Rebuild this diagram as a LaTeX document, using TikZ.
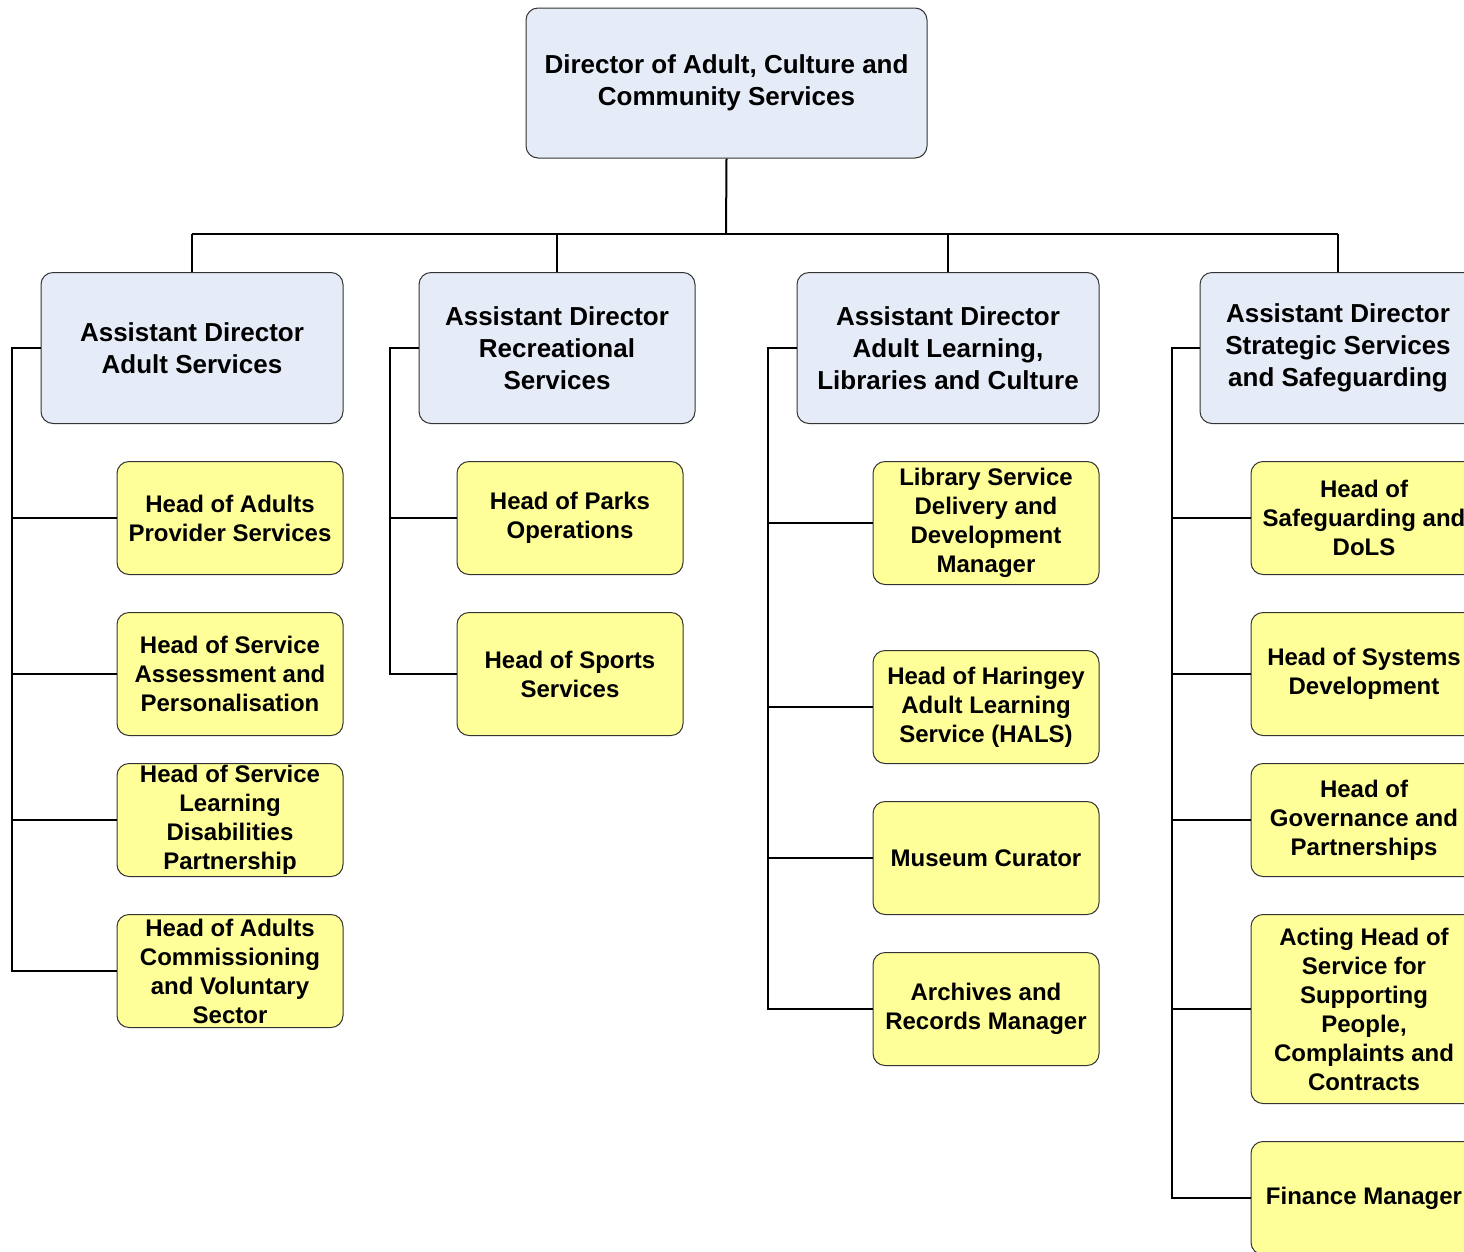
\documentclass[tikz,border=0pt]{standalone}
\usepackage{fontspec}
\setmainfont{Liberation Sans}
\usepackage{tikz}

\definecolor{adblue}{HTML}{E6ECF7}
\definecolor{headyellow}{HTML}{FFFF99}
\tikzset{
    box/.style={draw=black!80, line width=1pt, rounded corners=12pt, align=center, inner sep=0pt},
    director/.style={box, fill=adblue, minimum width=401pt, minimum height=150pt, font=\bfseries\fontsize{26}{32}\selectfont},
    assistant/.style={box, fill=adblue, minimum height=151pt, font=\bfseries\fontsize{26}{32}\selectfont},
    head/.style={box, fill=headyellow, minimum width=226pt, minimum height=113pt, font=\bfseries\fontsize{24}{29}\selectfont},
    trunk/.style={line width=2pt},
    link/.style={line width=1.2pt}
}

\begin{document}
\begin{tikzpicture}[x=1pt,y=-1pt]
    \useasboundingbox (0,0) rectangle (1464,1251);
    \clip (0,0) rectangle (1464,1251);
    \node[director] (dir) at (726.5,83) {Director of Adult, Culture and\\Community Services};
    \coordinate (bar) at (726,234);
    \node[assistant, minimum width=302pt] (ad1) at (192,348) {Assistant Director\\Adult Services};
    \node[assistant, minimum width=276pt] (ad2) at (557,348) {Assistant Director\\Recreational\\Services};
    \node[assistant, minimum width=302pt] (ad3) at (948,348) {Assistant Director\\Adult Learning,\\Libraries and Culture};
    \node[assistant, minimum width=276pt] (ad4) at (1338,348) {Assistant Director\\Strategic Services\\and Safeguarding};
    %heads
    \node[head] (h11) at (230,518) {Head of Adults\\Provider Services};
    \node[head, minimum height=123pt] (h12) at (230,674) {Head of Service\\Assessment and\\Personalisation};
    \node[head] (h13) at (230,820) {Head of Service\\Learning\\Disabilities\\Partnership};
    \node[head] (h14) at (230,971) {Head of Adults\\Commissioning\\and Voluntary\\Sector};
    \node[head] (h21) at (570,518) {Head of Parks\\Operations};
    \node[head, minimum height=123pt] (h22) at (570,674) {Head of Sports\\Services};
    \node[head, minimum height=123pt] (h31) at (986,523) {Library Service\\Delivery and\\Development\\Manager};
    \node[head] (h32) at (986,707) {Head of Haringey\\Adult Learning\\Service (HALS)};
    \node[head] (h33) at (986,858) {Museum Curator};
    \node[head] (h34) at (986,1009) {Archives and\\Records Manager};
    \node[head] (h41) at (1364,518) {Head of\\Safeguarding and\\DoLS};
    \node[head, minimum height=123pt] (h42) at (1364,674) {Head of Systems\\Development};
    \node[head] (h43) at (1364,820) {Head of\\Governance and\\Partnerships};
    \node[head, minimum height=189pt] (h44) at (1364,1009) {Acting Head of\\Service for\\Supporting\\People,\\Complaints and\\Contracts};
    \node[head] (h45) at (1364,1198) {Finance Manager};
    %spines
    \coordinate (s1) at (12,348);
    \coordinate (s2) at (390,348);
    \coordinate (s3) at (768,348);
    \coordinate (s4) at (1172,348);
    \draw[trunk] (dir.south) -- (bar);
    \draw[trunk] (ad1.north |- bar) -- (ad4.north |- bar);
    \foreach \n in {ad1,ad2,ad3,ad4}
        \draw[link] (\n.north) -- (\n.north |- bar);
    \draw[link] (ad1.west) -- (s1) |- (h14.west);
    \draw[link] (ad2.west) -- (s2) |- (h22.west);
    \draw[link] (ad3.west) -- (s3) |- (h34.west);
    \draw[link] (ad4.west) -- (s4) |- (h45.west);
    \foreach \n in {h11,h12,h13}
        \draw[link] (s1) |- (\n.west);
    \draw[link] (s2) |- (h21.west);
    \foreach \n in {h31,h32,h33}
        \draw[link] (s3) |- (\n.west);
    \foreach \n in {h41,h42,h43,h44}
        \draw[link] (s4) |- (\n.west);
\end{tikzpicture}
\end{document}
